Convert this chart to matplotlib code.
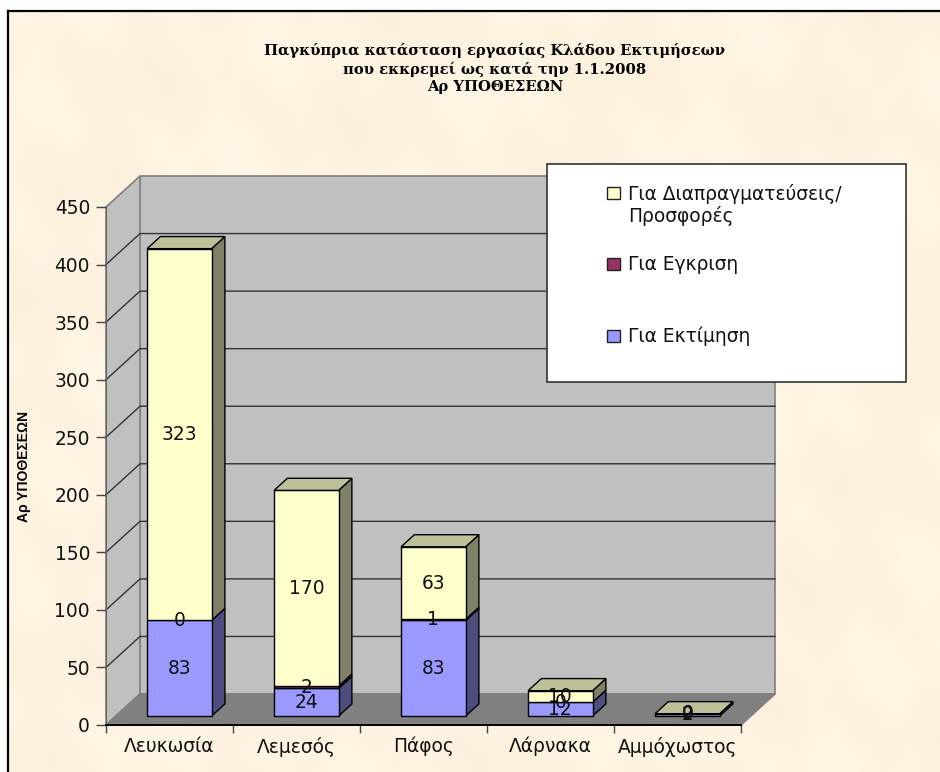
from matplotlib import pyplot as plt
from matplotlib.patches import Polygon, Rectangle
import numpy as np

categories = ['Λευκωσία', 'Λεμεσός', 'Πάφος', 'Λάρνακα', 'Αμμόχωστος']
estimate = [83, 24, 83, 12, 2]
approval = [0, 2, 1, 0, 0]
negotiation = [323, 170, 63, 10, 0]
yticks = [0, 50, 100, 150, 200, 250, 300, 350, 400, 450]

series_names = ['Για Διαπραγματεύσεις/\nΠροσφορές', 'Για Εγκριση', 'Για Εκτίμηση']
title_lines = ['Παγκύπρια κατάσταση εργασίας Κλάδου Εκτιμήσεων',
               'που εκκρεμεί ως κατά την 1.1.2008',
               'Αρ ΥΠΟΘΕΣΕΩΝ']
ylabel = 'Αρ ΥΠΟΘΕΣΕΩΝ'

W, H = 940, 772
FONT = 'DejaVu Sans'
FS = 13.4
# depth of the fake 3d box, in data units
DX = 34 / 127
DY = 31 / (518 / 450)
D_FRONT, D_BACK = 0.29, 0.68
BAR_W = 0.508


def px(x, y):
    # figure fraction from image pixels
    return x / W, 1 - y / H


def proj(x, y, d):
    return x + d * DX, y + d * DY


fig = plt.figure(figsize=(W / 100, H / 100), dpi=100, facecolor='white')

# parchment background
bg = fig.add_axes([8 / W, 0, 1 - 8 / W, 1 - 11 / H])
yy, xx = np.mgrid[0:761, 0:932]
tex = (np.sin(xx / 37 + yy / 71) + np.sin(xx / 13 - yy / 29 + 1.3) * 0.7
       + np.sin(xx / 83 - yy / 19 + 0.4) * 0.8 + np.sin(xx / 7 + yy / 11) * 0.25)
tex = tex / np.abs(tex).max()
rgb = np.dstack([253 + tex * 1.5, 243 + tex * 3, 224 + tex * 5]) / 255
bg.imshow(np.clip(rgb, 0, 1), aspect='auto')
bg.axis('off')
fig.add_artist(plt.Line2D([8 / W, 8 / W], [0, 1 - 11 / H], color='black', lw=1.6))
fig.add_artist(plt.Line2D([8 / W, 1], [1 - 11 / H, 1 - 11 / H], color='black', lw=1.6))

x0, y0 = px(106, 725)
ax = fig.add_axes([x0, y0, 635 / W, 518 / H])
ax.patch.set_alpha(0)
ax.set_xlim(0, 5)
ax.set_ylim(0, 450)


def poly(pts, face, edge='black', lw=1.0, z=2):
    ax.add_patch(Polygon(pts, closed=True, facecolor=face, edgecolor=edge,
                         linewidth=lw, clip_on=False, zorder=z, joinstyle='miter'))


# walls and floor
poly([proj(0, 0, 1), proj(5, 0, 1), proj(5, 450, 1), proj(0, 450, 1)], '#C0C0C0', '#808080', 1.2, 1)
poly([proj(0, 0, 0), proj(0, 0, 1), proj(0, 450, 1), proj(0, 450, 0)], '#C0C0C0', '#808080', 1.2, 1)
poly([proj(0, 0, 0), proj(5, 0, 0), proj(5, 0, 1), proj(0, 0, 1)], '#808080', '#808080', 1.2, 1)
for v in yticks[1:-1]:
    bx, by = proj(0, v, 1)
    ex, ey = proj(5, v, 1)
    ax.plot([0, bx, ex], [v, by, ey], color='#333333', lw=1.0, clip_on=False, zorder=1.5)

# stacked bars, one box per segment
seg_colors = [('#9999FF', '#4D4D80'), ('#993366', '#4D1A33'), ('#FFFFCC', '#808066')]
for i in range(len(categories)):
    left = i + 0.5 - BAR_W / 2
    right = i + 0.5 + BAR_W / 2
    base = 0
    for vals, (front, side) in zip([estimate, approval, negotiation], seg_colors):
        top = base + vals[i]
        if vals[i] > 0:
            poly([proj(right, base, D_FRONT), proj(right, base, D_BACK),
                  proj(right, top, D_BACK), proj(right, top, D_FRONT)], side, z=3)
            poly([proj(left, base, D_FRONT), proj(right, base, D_FRONT),
                  proj(right, top, D_FRONT), proj(left, top, D_FRONT)], front, z=3)
        base = top
    poly([proj(left, base, D_FRONT), proj(right, base, D_FRONT),
          proj(right, base, D_BACK), proj(left, base, D_BACK)], '#BFBF99', z=3)

    # data labels sit in the middle of each segment
    base = 0
    for vals in [estimate, approval, negotiation]:
        lx, ly = proj(i + 0.5, base + vals[i] / 2, D_FRONT)
        ax.text(lx, ly, str(vals[i]), ha='center', va='center', fontsize=FS,
                family=FONT, color='#111111', zorder=5, clip_on=False)
        base += vals[i]

# axes
for name in ['top', 'right']:
    ax.spines[name].set_visible(False)
ax.spines['left'].set_color('#666666')
ax.spines['bottom'].set_color('black')
ax.spines['bottom'].set_linewidth(1.4)
ax.spines['left'].set_zorder(2)
ax.spines['bottom'].set_zorder(2)
ax.set_yticks(yticks)
ax.set_xticks(range(6))
ax.set_xticklabels([])
ax.set_xticks(np.arange(5) + 0.5, minor=True)
ax.set_xticklabels(categories, minor=True, family=FONT, fontsize=FS, color='#111111')
ax.tick_params(axis='x', which='major', length=6, color='#444444', width=1)
ax.tick_params(axis='x', which='minor', length=0, pad=8.5)
ax.tick_params(axis='y', length=7.5, color='#444444', width=1, pad=4, labelsize=FS, labelcolor='#111111')
for t in ax.get_yticklabels():
    t.set_family(FONT)

# y label and title
tx, ty = px(24, 466)
fig.text(tx, ty, ylabel, rotation=90, ha='center', va='center', fontsize=10,
         fontweight='bold', family='Liberation Sans', color='black')
for line, y in zip(title_lines, [50, 69, 87]):
    tx, ty = px(495, y)
    fig.text(tx, ty, line, ha='center', va='center', fontsize=10.6, fontweight='bold',
             family='DejaVu Serif', color='black')

# legend box
lx, ly = px(547, 382)
fig.add_artist(Rectangle((lx, ly), 359 / W, 218 / H, transform=fig.transFigure,
                         facecolor='white', edgecolor='#333333', linewidth=1.2, zorder=6))
legend_colors = ['#FFFFCC', '#993366', '#9999FF']
for name, col, y in zip(series_names, legend_colors, [193, 264, 336]):
    rx, ry = px(607, y + 6)
    fig.add_artist(Rectangle((rx, ry), 13 / W, 12 / H, transform=fig.transFigure,
                             facecolor=col, edgecolor='#222222', linewidth=1, zorder=7))
    tx, ty = px(628, y - 9)
    fig.text(tx, ty, name, ha='left', va='top', fontsize=FS, family=FONT,
             color='#111111', zorder=7, linespacing=1.1)

fig.savefig('out.png', dpi=100)
